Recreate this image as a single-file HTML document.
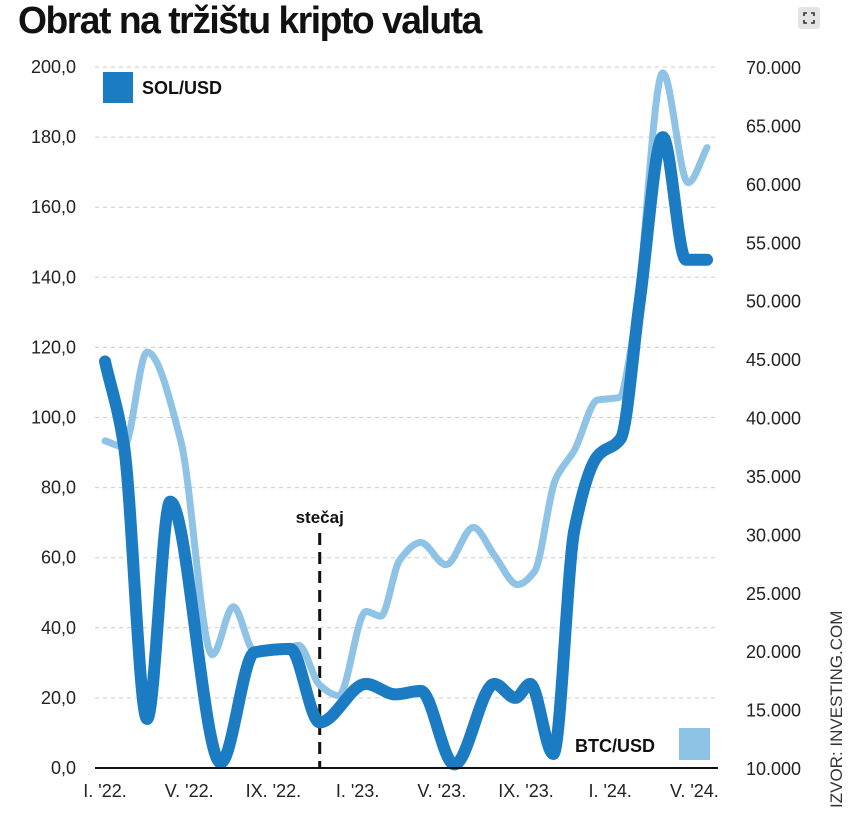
<!DOCTYPE html>
<html><head><meta charset="utf-8"><style>
body{margin:0;background:#fff;width:850px;height:829px;overflow:hidden;font-family:"Liberation Sans",sans-serif}
#title{position:absolute;left:18px;top:0px;font-size:38px;font-weight:bold;letter-spacing:-1.5px;transform:scaleX(0.98);transform-origin:left top;color:#111;white-space:nowrap}
</style></head><body>
<div id="title">Obrat na tržištu kripto valuta</div>
<svg style="position:absolute;left:798px;top:7px" width="22" height="22">
<rect x="0" y="0" width="22" height="22" rx="3" fill="#e4e4e4"/>
<path d="M6 9V6h3M13 6h3v3M16 13v3h-3M9 16H6v-3" stroke="#333" stroke-width="1.6" fill="none"/>
</svg>
<svg id="chart" width="850" height="829" style="position:absolute;left:0;top:0;pointer-events:none"></svg>
<script>
const months=[0,0.9,2.0,3.1,5.5,7.1,8.8,10.2,12.4,13.8,15,16.6,18.5,19.5,20.2,21.3,22.3,23.4,24.5,25.4,26.5,27.6,28.6];
const solValues=[116,92,14,76,1.5,33,34,13,24,21,22,1,24,20,24,4,68,89,94,133,180,145,145];
const btcMonths=[0,0.9,2.0,3.6,5.1,6.1,7.1,8.3,9.2,10.2,11.1,12.4,13.1,14,15,16.2,17.5,18.5,19.6,20.4,21.4,22.3,23.4,24.4,25.2,26.5,27.7,28.6];
const btcValues=[38000,37500,45600,38000,19700,23800,20000,20000,20500,17100,16200,23400,23000,27800,29300,27400,30600,28200,25700,26800,34700,37200,41500,41700,48300,69500,60100,63100];
const leftTicks=[0,20,40,60,80,100,120,140,160,180,200];
const rightTicks=[10000,15000,20000,25000,30000,35000,40000,45000,50000,55000,60000,65000,70000];
const xTicks=[0,4,8,12,16,20,24,28];
const xLabels=["I. '22.","V. '22.","IX. '22.","I. '23.","V. '23.","IX. '23.","I. '24.","V. '24."];
const eventMonth=10.2;

const svg=document.getElementById('chart');const NS='http://www.w3.org/2000/svg';
const X=m=>105+m*21.05;
const YL=v=>768-v*3.505;
const YR=v=>768-(v-10000)*701/60000;
function mk(t,a,p){const e=document.createElementNS(NS,t);for(const k in a)e.setAttribute(k,a[k]);(p||svg).appendChild(e);return e;}
function fmt(v){return v.toFixed(1).replace('.',',');}
function fmtR(v){return (v/1000).toFixed(3);}
leftTicks.forEach(v=>{
 if(v>0){const g=mk('line',{x1:95,x2:718,y1:YL(v),y2:YL(v),stroke:'#ccc','stroke-dasharray':'4 4','stroke-width':1});
 
 }
 const t=mk('text',{x:76,y:YL(v)+6,'text-anchor':'end','font-size':18,fill:'#222'});t.textContent=fmt(v);
 
 
});
rightTicks.forEach(v=>{
 const t=mk('text',{x:801,y:YR(v)+7,'text-anchor':'end','font-size':18,fill:'#222'});t.textContent=fmtR(v);
 
 
});
xTicks.forEach((m,i)=>{
 const t=mk('text',{x:X(m),y:797,'text-anchor':'middle','font-size':18,fill:'#222'});t.textContent=xLabels[i];
 
 
});
function path(ms,vs,Y){
 const p=ms.map((m,i)=>[X(m),Y(vs[i])]);const n=p.length;
 const d=[],s=[];
 for(let i=0;i<n-1;i++)d.push((p[i+1][1]-p[i][1])/(p[i+1][0]-p[i][0]));
 for(let i=0;i<n;i++){
  if(i==0)s.push(d[0]);else if(i==n-1)s.push(d[n-2]);
  else if(d[i-1]*d[i]<=0)s.push(0);
  else{const h0=p[i][0]-p[i-1][0],h1=p[i+1][0]-p[i][0];const w1=2*h1+h0,w2=h1+2*h0;s.push((w1+w2)/(w1/d[i-1]+w2/d[i]));}
 }
 let str='M'+p[0][0]+' '+p[0][1];
 for(let i=0;i<n-1;i++){const h=(p[i+1][0]-p[i][0])/3;
  str+=`C${p[i][0]+h} ${p[i][1]+s[i]*h} ${p[i+1][0]-h} ${p[i+1][1]-s[i+1]*h} ${p[i+1][0]} ${p[i+1][1]}`;}
 return str;}
const ev=mk('line',{x1:X(eventMonth),x2:X(eventMonth),y1:533,y2:768,stroke:'#111','stroke-width':3,'stroke-dasharray':'12 7'});


const et=mk('text',{x:X(eventMonth),y:523,'text-anchor':'middle','font-size':17,'font-weight':'bold',fill:'#111'});et.textContent='stečaj';


const b=mk('path',{d:path(btcMonths,btcValues,YR),fill:'none',stroke:'#8ec3e6','stroke-width':7,'stroke-linecap':'round','stroke-linejoin':'round'});


const s=mk('path',{d:path(months,solValues,YL),fill:'none',stroke:'#1b7cc4','stroke-width':12,'stroke-linecap':'round','stroke-linejoin':'round'});


const ax=mk('line',{x1:95,x2:718,y1:768,y2:768,stroke:'#111','stroke-width':2});


</script>
<svg style="position:absolute;left:0;top:0" width="850" height="829">
<g><rect x="103" y="72" width="30" height="31" fill="#1b7cc4"/><text x="142" y="94" font-size="18" font-weight="bold" font-family="Liberation Sans" fill="#111">SOL/USD</text></g>
<g><text x="575" y="752" font-size="18" font-weight="bold" font-family="Liberation Sans" fill="#111">BTC/USD</text><rect x="679" y="728" width="31" height="32" fill="#8ec3e6"/></g>
<text transform="translate(842,808) rotate(-90)" font-size="17" font-family="Liberation Sans" fill="#333">IZVOR: INVESTING.COM</text>
</svg>
</body></html>
